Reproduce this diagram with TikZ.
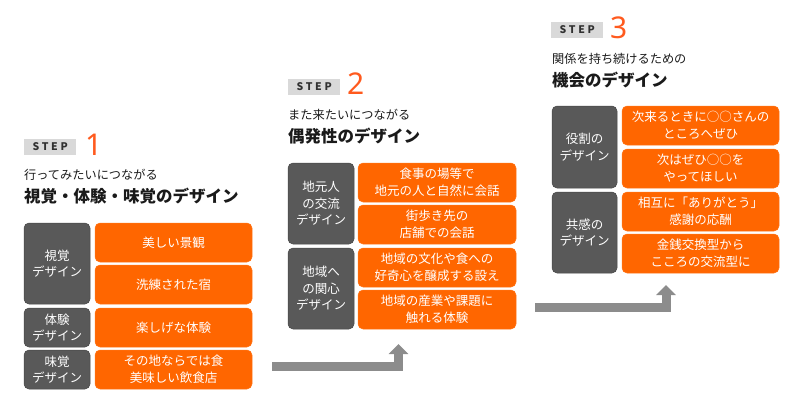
\documentclass[tikz,border=0pt]{standalone}
\usepackage{fontspec}
\setmainfont{Noto Sans CJK JP}
\newfontfamily\stepfont[LetterSpace=26]{Noto Sans CJK JP}
\newfontfamily\numfont{Noto Sans}
\usetikzlibrary{arrows.meta,positioning}
\definecolor{jpOrange}{HTML}{FF6600}
\definecolor{jpNum}{HTML}{FF5A1E}
\definecolor{jpDark}{HTML}{595959}
\definecolor{jpChip}{HTML}{D9D9D9}
\definecolor{jpArrow}{HTML}{8C8C8C}
\definecolor{jpInk}{HTML}{1A1A1A}
\tikzset{
  catbox/.style={fill=jpDark, draw=jpDark!80!black, line width=0.5pt, rounded corners=5pt, text=white, align=center,
    anchor=north west, inner sep=0pt, outer sep=0pt, minimum width=66pt, font=\fontsize{12.5}{16.5}\selectfont},
  itembox/.style={fill=jpOrange, draw=jpOrange!90!white, line width=0.5pt, rounded corners=5pt, text=white, align=center,
    anchor=north west, inner sep=0pt, outer sep=0pt, minimum width=157pt, minimum height=39pt, font=\fontsize{12.5}{17}\selectfont},
  stepchip/.style={fill=jpChip, anchor=north west, inner sep=0pt, minimum width=52pt, minimum height=15.5pt,
    text=jpInk!90, font=\stepfont\bfseries\fontsize{10.5}{11}\selectfont},
  stepnum/.style={anchor=base west, inner sep=0pt, text=jpNum, font=\numfont\fontsize{30}{30}\selectfont},
  leadline/.style={anchor=west, inner sep=0pt, text=jpInk, font=\fontsize{12.2}{14}\selectfont},
  titleline/.style={anchor=west, inner sep=0pt, text=jpInk, font=\bfseries\fontsize{16.5}{19}\selectfont},
  flowarrow/.style={draw=jpArrow, line width=9pt, line join=miter, -{Triangle[length=10pt,width=19pt]}},
}
\begin{document}
\begin{tikzpicture}[x=1pt,y=-1pt]
  \useasboundingbox (0,0) rectangle (800,413);

  % step 1
  \node[stepchip] (chipA) at (24,139) {STEP};
  \node[stepnum] (numA) at (85,155) {1};
  \node[leadline] (leadA) at (24,175) {行ってみたいにつながる};
  \node[titleline] (titleA) at (24,196) {視覚・体験・味覚のデザイン};

  \node[catbox, minimum height=81pt] (catA1) at (24,223) {視覚\\デザイン};
  \node[catbox, minimum height=39pt] (catA2) at (24,308) {体験\\デザイン};
  \node[catbox, minimum height=39pt] (catA3) at (24,350) {味覚\\デザイン};
  \node[itembox] (itemA1) at (95,223) {美しい景観};
  \node[itembox] (itemA2) at (95,265) {洗練された宿};
  \node[itembox] (itemA3) at (95,308) {楽しげな体験};
  \node[itembox] (itemA4) at (95,350) {その地ならでは食\\美味しい飲食店};

  % step 2
  \node[stepchip] (chipB) at (288,79) {STEP};
  \node[stepnum] (numB) at (347,94) {2};
  \node[leadline] (leadB) at (288,115) {また来たいにつながる};
  \node[titleline] (titleB) at (288,136) {偶発性のデザイン};

  \node[catbox, minimum height=81pt] (catB1) at (288,163) {地元人\\の交流\\デザイン};
  \node[catbox, minimum height=81pt] (catB2) at (288,248) {地域へ\\の関心\\デザイン};
  \node[itembox, minimum width=158pt] (itemB1) at (358,163) {食事の場等で\\地元の人と自然に会話};
  \node[itembox, minimum width=158pt] (itemB2) at (358,205) {街歩き先の\\店舗での会話};
  \node[itembox, minimum width=158pt] (itemB3) at (358,248) {地域の文化や食への\\好奇心を醸成する設え};
  \node[itembox, minimum width=158pt] (itemB4) at (358,290) {地域の産業や課題に\\触れる体験};

  % step 3
  \node[stepchip] (chipC) at (551,22) {STEP};
  \node[stepnum] (numC) at (610,38) {3};
  \node[leadline] (leadC) at (552,59) {関係を持ち続けるための};
  \node[titleline] (titleC) at (552,80) {機会のデザイン};

  \node[catbox, minimum width=65pt, minimum height=82pt] (catC1) at (552,106) {役割の\\デザイン};
  \node[catbox, minimum width=65pt, minimum height=81pt] (catC2) at (552,192) {共感の\\デザイン};
  \node[itembox] (itemC1) at (622,106) {次来るときに○○さんの\\ところへぜひ};
  \node[itembox] (itemC2) at (622,149) {次はぜひ○○を\\やってほしい};
  \node[itembox] (itemC3) at (622,192) {相互に「ありがとう」\\感謝の応酬};
  \node[itembox] (itemC4) at (622,234) {金銭交換型から\\こころの交流型に};

  % arrows between steps
  \coordinate (outA) at (272,366.5);
  \coordinate (inB) at (398.5,344);
  \coordinate (outB) at (535,307.5);
  \coordinate (inC) at (666,285);
  \draw[flowarrow] (outA) -| (inB);
  \draw[flowarrow] (outB) -| (inC);
\end{tikzpicture}
\end{document}
